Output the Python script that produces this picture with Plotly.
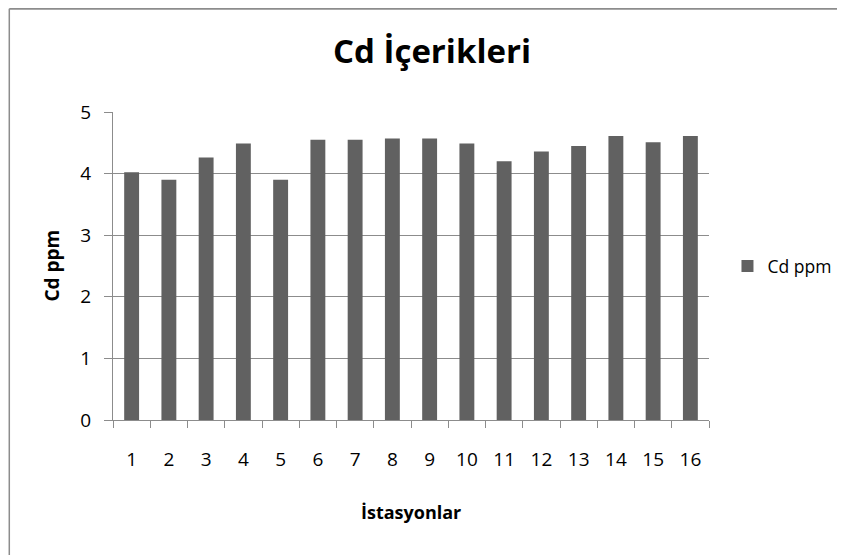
import plotly.graph_objects as go

# station numbers and Cd values (ppm)
stations = [str(i) for i in range(1, 17)]
cd_ppm = [4.02, 3.90, 4.26, 4.49, 3.90, 4.55, 4.55, 4.57,
          4.57, 4.49, 4.20, 4.36, 4.45, 4.61, 4.51, 4.61]
y_ticks = [0, 1, 2, 3, 4, 5]

FONT = "Open Sans, sans-serif"
GRID = "#8c8c8c"

fig = go.Figure()
fig.add_trace(go.Bar(x=stations, y=cd_ppm, name="Cd ppm",
                     marker=dict(color="#616161", line=dict(width=0)),
                     width=0.4))

# the page body adds an 8px offset, so the figure is 8px smaller than the window
fig.update_layout(
    width=837, height=547,
    margin=dict(l=105, r=136, t=104, b=135, autoexpand=False),
    paper_bgcolor="white", plot_bgcolor="white",
    font=dict(family=FONT, size=16, color="black"),
    showlegend=True,
    legend=dict(x=1.031, y=0.5, yanchor="middle", xanchor="left",
                font=dict(size=17.5), bgcolor="rgba(0,0,0,0)"),
    xaxis=dict(type="category", showgrid=False, showline=True, linecolor=GRID, linewidth=1,
               ticks="outside", tickson="boundaries", ticklen=7, tickcolor=GRID,
               tickfont=dict(size=19), ticklabelstandoff=22),
    yaxis=dict(range=[0, 5], tickvals=y_ticks, showgrid=True, gridcolor=GRID, gridwidth=1,
               showline=True, linecolor=GRID, linewidth=1, zeroline=False,
               ticks="outside", ticklen=8, tickcolor=GRID, tickfont=dict(size=19),
               ticklabelstandoff=9),
    bargap=0.6,
)

# titles
fig.add_annotation(text="<b>Cd İçerikleri</b>", xref="paper", yref="paper",
                   x=0.535, y=1.2, xanchor="center", yanchor="middle",
                   showarrow=False, font=dict(size=33, family=FONT))
fig.add_annotation(text="<b>Cd ppm</b>", xref="paper", yref="paper",
                   x=-0.103, y=0.5, xanchor="center", yanchor="middle", textangle=-90,
                   showarrow=False, font=dict(size=19, family=FONT))
fig.add_annotation(text="<b>İstasyonlar</b>", xref="paper", yref="paper",
                   x=0.5, y=-0.3, xanchor="center", yanchor="middle",
                   showarrow=False, font=dict(size=18, family=FONT))

# chart border (only top and left edges are visible in the crop)
fig.add_shape(type="line", xref="paper", yref="paper", x0=-0.174, x1=1.3, y0=1.335, y1=1.335,
              line=dict(color=GRID, width=2))
fig.add_shape(type="line", xref="paper", yref="paper", x0=-0.174, x1=-0.174, y0=1.335, y1=-0.5,
              line=dict(color=GRID, width=1.5))

fig.write_html("out.html")
